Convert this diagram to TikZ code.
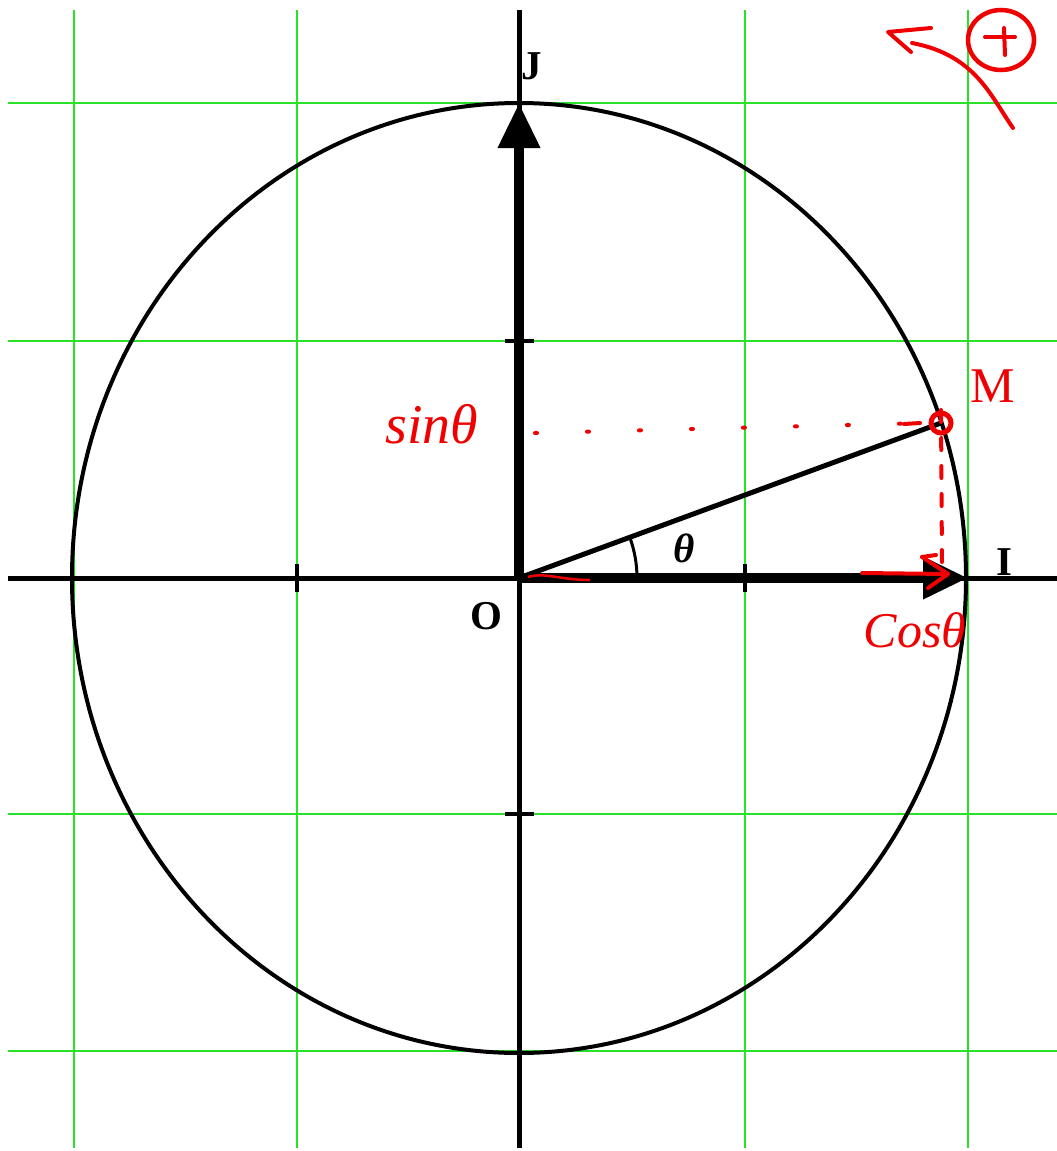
\documentclass[tikz,border=0pt]{standalone}
\usepackage{fontspec}
\setmainfont{Liberation Serif}
\usetikzlibrary{arrows.meta}
\definecolor{gridgreen}{RGB}{40,225,40}
\definecolor{pen}{RGB}{240,0,0}
\tikzset{
  gridline/.style={gridgreen, line width=1.6pt},
  axisline/.style={black, line width=5pt},
  vecline/.style={black, line width=10pt},
  tickline/.style={black, line width=4pt},
  penline/.style={pen, line width=4pt, line cap=round, line join=round},
  lbl/.style={font=\bfseries\fontsize{41}{44}\selectfont, inner sep=0pt},
  hand/.style={pen, font=\itshape\fontsize{56}{60}\selectfont, inner sep=0pt}
}
\begin{document}
\begin{tikzpicture}[x=1pt,y=-1pt]
\useasboundingbox (0,0) rectangle (1057,1151);
% grid
\foreach \gx in {74,297,745,968} \draw[gridline] (\gx,10) -- (\gx,1148);
\foreach \gy in {103,341,814,1051} \draw[gridline] (8,\gy) -- (1057,\gy);
% key points
\coordinate (O) at (519,578);
\coordinate (I) at (968,578);
\coordinate (J) at (519,103);
\coordinate (M) at (941,423);
\coordinate (xl) at (8,578);
\coordinate (xr) at (1057,578);
\coordinate (yt) at (519,10);
\coordinate (yb) at (519,1148);
% circle
\draw[black, line width=4pt] (O) ellipse [x radius=447, y radius=475];
% axes
\draw[axisline] (xl) -- (xr);
\draw[axisline] (yt) -- (yb);
% ticks
\foreach \tx in {297,745} \draw[tickline] (\tx,564) -- (\tx,592);
\foreach \ty in {341,814} \draw[tickline] (505,\ty) -- (534,\ty);
% vectors
\draw[vecline, -{Triangle[length=45pt,width=40pt]}] (O) -- (I);
\draw[vecline, -{Triangle[length=45pt,width=40pt]}] (O) -- (J);
% OM
\draw[black, line width=5pt] (O) -- (M);
\draw[black, line width=3pt] ([xshift=118pt]O) arc[start angle=0, end angle=-20.2, radius=118];
% labels
\node[lbl] (Jl) at (532,66) {J};
\node[lbl] (Il) at (1004,562) {I};
\node[lbl] (Ol) at (486,616) {O};
\node[lbl, font=\bfseries\itshape\fontsize{41}{44}\selectfont] (th) at (684,548) {θ};
% red annotations
\node[hand] (sinl) at (432,424) {sinθ};
\node[hand, font=\fontsize{50}{54}\selectfont] (Ml) at (993,386) {M};
\node[hand, font=\itshape\fontsize{50}{54}\selectfont] (cosl) at (915,630) {Cosθ};
\coordinate (sy) at (535,433);
\coordinate (cx) at (942,568);
\draw[penline, dash pattern=on 2pt off 50pt] (sy) -- ([xshift=-14pt]M);
\draw[penline] (904,424) -- (920,423);
\draw[penline, dash pattern=on 12pt off 16pt] ([yshift=13pt]M) -- (cx);
\draw[pen, line width=5pt] (M) circle[radius=10];
\draw[penline] (862,573) -- (948,574);
\draw[penline] (922,557) -- (948,574) -- (928,588);
\draw[penline] (922,557) -- (936,555);
\draw[pen, line width=2.5pt] (528,577) .. controls (545,572) and (560,580) .. (590,580);
% top right orientation mark
\coordinate (pc) at (1001,40);
\draw[pen, line width=4.5pt] (pc) ellipse[x radius=33, y radius=30];
\draw[penline] (985,37) -- (1015,37);
\draw[penline] (1004,28) -- (1005,55);
\coordinate (as) at (1013,128);
\coordinate (ae) at (912,43);
\draw[penline] (as) .. controls (990,95) and (975,55) .. (ae);
\draw[penline] (931,28) -- (888,32) -- (911,52);
\end{tikzpicture}
\end{document}
